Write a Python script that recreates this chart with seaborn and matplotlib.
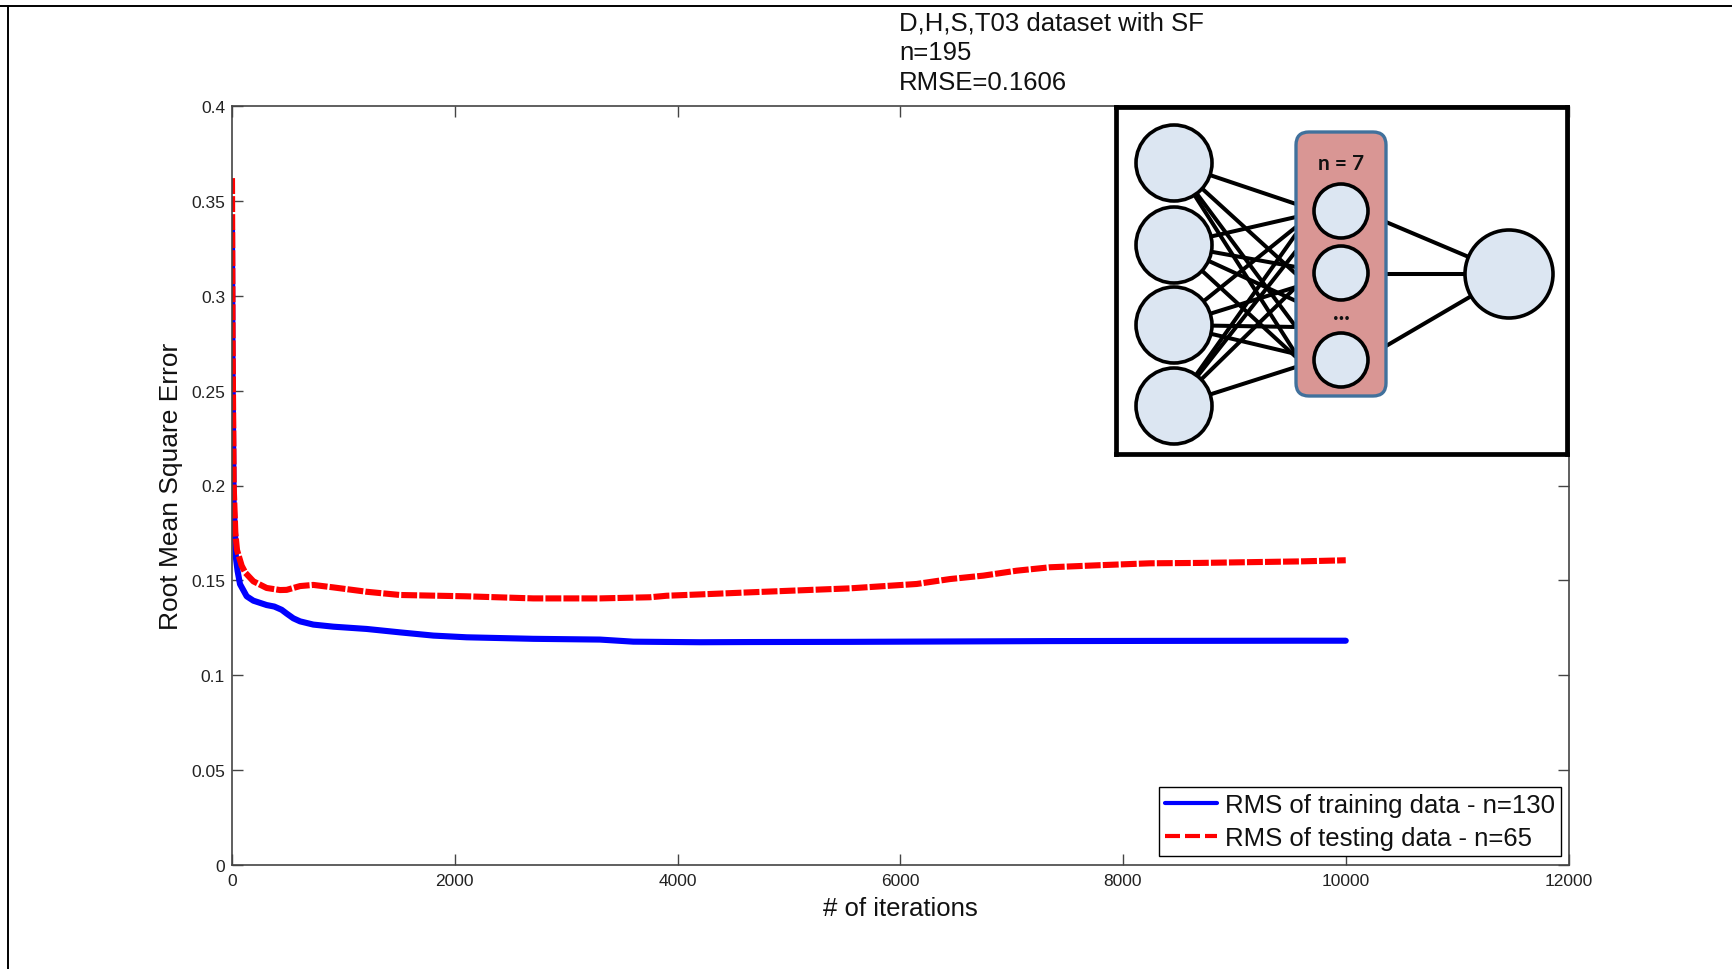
import matplotlib
matplotlib.use("Agg")
import matplotlib.pyplot as plt
from matplotlib.patches import Circle, FancyBboxPatch
from matplotlib.lines import Line2D
import pandas as pd
import seaborn as sns

# ---------------------------------------------------------------- data
train_label = "RMS of training data - n=130"
test_label = "RMS of testing data - n=65"

train_iter = [0, 5, 15, 27, 35, 50, 72, 132, 192, 311, 380, 446, 491, 551, 611,
              730, 910, 1209, 1508, 1808, 2107, 2705, 3304, 3603, 4202, 4651,
              5549, 6447, 7344, 8242, 9589, 10000]
train_rmse = [0.335, 0.26, 0.19, 0.175, 0.162, 0.155, 0.148, 0.1416, 0.1393,
              0.1370, 0.1362, 0.1345, 0.1325, 0.1300, 0.1284, 0.1267, 0.1256,
              0.1244, 0.1226, 0.1209, 0.1200, 0.1192, 0.1188, 0.1177, 0.1174,
              0.1175, 0.1176, 0.1178, 0.1180, 0.1181, 0.1182, 0.1182]

test_iter = [0, 5, 15, 30, 45, 87, 120, 192, 311, 431, 491, 611, 730, 910,
             1209, 1508, 2107, 2705, 3304, 3753, 3903, 4202, 4651, 5549, 6147,
             6447, 6746, 7045, 7344, 7793, 8242, 8691, 9589, 10000]
test_rmse = [0.362, 0.28, 0.20, 0.175, 0.166, 0.1577, 0.154, 0.1495, 0.146,
             0.1449, 0.1450, 0.1470, 0.1476, 0.1463, 0.1440, 0.1423, 0.1416,
             0.1405, 0.1405, 0.1411, 0.1419, 0.1426, 0.1437, 0.1458, 0.1481,
             0.1507, 0.1525, 0.1551, 0.1569, 0.1580, 0.1590, 0.1592, 0.1600,
             0.1606]

x_ticks = [0, 2000, 4000, 6000, 8000, 10000, 12000]
x_tick_labels = ["0", "2000", "4000", "6000", "8000", "10000", "12000"]
y_ticks = [0, 0.05, 0.1, 0.15, 0.2, 0.25, 0.3, 0.35, 0.4]
y_tick_labels = ["0", "0.05", "0.1", "0.15", "0.2", "0.25", "0.3", "0.35", "0.4"]

title_lines = ["D,H,S,T03 dataset with SF", "n=195", "RMSE=0.1606"]
hidden_label = "n = 7"

# ---------------------------------------------------------------- style
sns.set_style("ticks")
plt.rcParams["font.family"] = ["Liberation Sans", "DejaVu Sans"]
plt.rcParams["text.color"] = "#111111"

W, H = 1732, 970
fig = plt.figure(figsize=(W / 100, H / 100), dpi=100)
fig.patch.set_facecolor("white")

# thin frame along the top and left of the canvas
fig.add_artist(Line2D([0, 1], [1 - 7 / H, 1 - 7 / H], transform=fig.transFigure,
                      color="black", lw=1.4))
fig.add_artist(Line2D([8 / W, 8 / W], [0, 1 - 7 / H], transform=fig.transFigure,
                      color="black", lw=1.4))

ax_l, ax_r, ax_t, ax_b = 232, 1568.5, 107, 866
ax = fig.add_axes([ax_l / W, 1 - ax_b / H, (ax_r - ax_l) / W, (ax_b - ax_t) / H])

df = pd.concat([
    pd.DataFrame({"iteration": train_iter, "rmse": train_rmse, "series": train_label}),
    pd.DataFrame({"iteration": test_iter, "rmse": test_rmse, "series": test_label}),
], ignore_index=True)

sns.lineplot(data=df, x="iteration", y="rmse", hue="series", style="series",
             hue_order=[train_label, test_label], style_order=[train_label, test_label],
             palette={train_label: "#0000FF", test_label: "#FF0000"},
             dashes={train_label: "", test_label: (2.6, 0.35)},
             estimator=None, sort=False, linewidth=4.4, legend=False, ax=ax)

ax.set_xlim(0, 12000)
ax.set_ylim(0, 0.4)
ax.set_xticks(x_ticks)
ax.set_xticklabels(x_tick_labels)
ax.set_yticks(y_ticks)
ax.set_yticklabels(y_tick_labels)
ax.tick_params(direction="in", top=True, right=True, length=8, width=1.0,
               color="#444444", labelcolor="#222222", labelsize=12.5, pad=5)
ax.tick_params(axis="x", pad=6)
for side in ["top", "right", "bottom", "left"]:
    ax.spines[side].set_visible(True)
    ax.spines[side].set_color("#444444")
    ax.spines[side].set_linewidth(1.2)

ax.set_xlabel("# of iterations", fontsize=18.5, color="#111111")
ax.set_ylabel("Root Mean Square Error", fontsize=19, color="#111111")
ax.xaxis.set_label_coords(0.5, (ax_b - 897) / (ax_b - ax_t))
ax.yaxis.set_label_coords((183 - ax_l) / (ax_r - ax_l), 0.5)

leg = ax.legend(ax.lines[:2], [train_label, test_label], loc="lower right",
                bbox_to_anchor=((1561 - ax_l) / (ax_r - ax_l), (ax_b - 857) / (ax_b - ax_t)),
                borderaxespad=0, fontsize=18.5, frameon=True, fancybox=False,
                framealpha=1, edgecolor="black", handlelength=2.0,
                handletextpad=0.3, borderpad=0.25, labelspacing=0.32)
leg.get_frame().set_linewidth(1.0)
for ln in leg.get_lines():
    ln.set_linewidth(3.0)
leg.get_lines()[1].set_dashes((3.6, 1.2))

for i, line in enumerate(title_lines):
    fig.text(899 / W, 1 - (31 + 29.5 * i) / H, line, fontsize=18.5,
             ha="left", va="baseline", color="#111111")

# ---------------------------------------------------------------- network sketch
ins_l, ins_r, ins_t, ins_b = 1116, 1567, 108, 455
ins = fig.add_axes([ins_l / W, 1 - ins_b / H, (ins_r - ins_l) / W, (ins_b - ins_t) / H],
                   zorder=5)
ins.set_xlim(ins_l, ins_r)
ins.set_ylim(ins_b, ins_t)
ins.set_xticks([])
ins.set_yticks([])
ins.set_facecolor("white")
for side in ins.spines.values():
    side.set_visible(True)
    side.set_color("black")
    side.set_linewidth(3.4)

node_fill = "#DCE6F2"
edge_lw = 2.9
ring_lw = 2.6

input_x = 1174
input_y = [164, 246, 326, 407]
input_r = 38
hidden_x = 1341
hidden_y = [212, 274, 361]
hidden_r = 27
output_xy = (1509, 275)
output_r = 44
box = (1296, 133, 1386, 397)

input_targets = [
    [205, 275, 328, 355],
    [218, 268, 302, 358],
    [228, 288, 328, 355],
    [235, 252, 288, 368],
]
for y0, targets in zip(input_y, input_targets):
    for ty in targets:
        ins.plot([input_x, box[0]], [y0, ty], color="black", lw=edge_lw,
                 solid_capstyle="butt", zorder=2)
for ty in [223, 275, 347]:
    ins.plot([box[2], output_xy[0]], [ty, output_xy[1]], color="black",
             lw=edge_lw, solid_capstyle="butt", zorder=2)

ins.add_patch(FancyBboxPatch((box[0], box[1]), box[2] - box[0], box[3] - box[1],
                             boxstyle="round,pad=0,rounding_size=13",
                             facecolor="#D99694", edgecolor="#41719C", lw=2.4,
                             zorder=3))

for y0 in input_y:
    ins.add_patch(Circle((input_x, y0), input_r, facecolor=node_fill,
                         edgecolor="black", lw=ring_lw, zorder=4))
for y0 in hidden_y:
    ins.add_patch(Circle((hidden_x, y0), hidden_r, facecolor=node_fill,
                         edgecolor="black", lw=ring_lw, zorder=4))
ins.add_patch(Circle(output_xy, output_r, facecolor=node_fill,
                     edgecolor="black", lw=ring_lw, zorder=4))

ins.text(hidden_x, 164, hidden_label, fontsize=15, fontweight="bold",
         family=["Lato", "DejaVu Sans"], ha="center", va="center", zorder=5)
ins.text(hidden_x, 312, "...", fontsize=17, fontweight="bold",
         family=["Lato", "DejaVu Sans"], ha="center", va="center", zorder=5)

fig.savefig("out.png", dpi=100, facecolor="white")
